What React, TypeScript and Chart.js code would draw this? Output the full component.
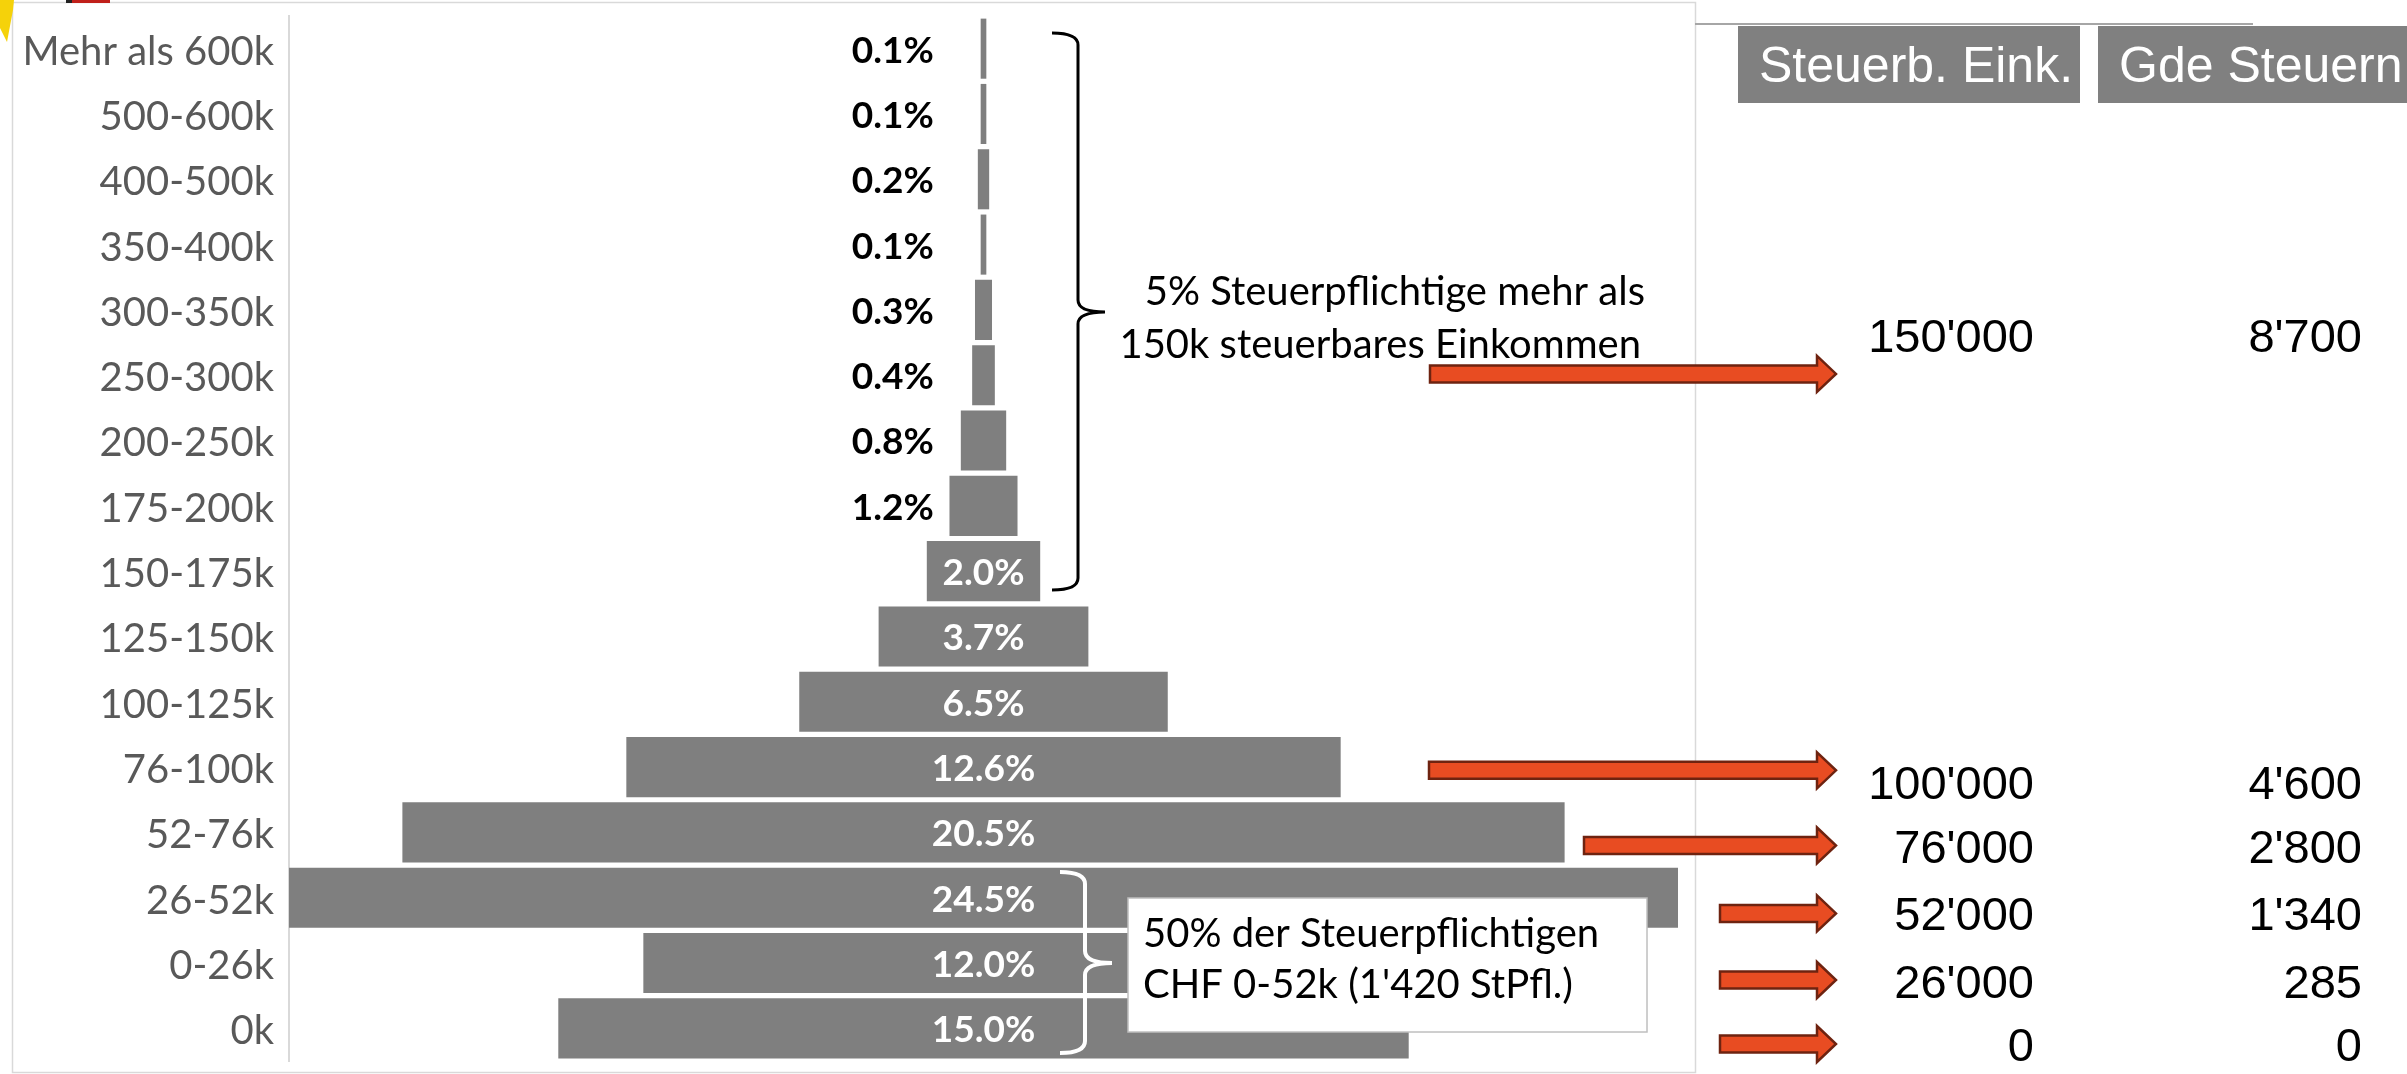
import React, { useEffect, useRef } from "react";
import { Chart, registerables } from "chart.js";

Chart.register(...registerables);

// ---------- data ----------
const categories = [
  "Mehr als 600k", "500-600k", "400-500k", "350-400k", "300-350k", "250-300k",
  "200-250k", "175-200k", "150-175k", "125-150k", "100-125k", "76-100k",
  "52-76k", "26-52k", "0-26k", "0k",
];
const shares = [0.1, 0.1, 0.2, 0.1, 0.3, 0.4, 0.8, 1.2, 2.0, 3.7, 6.5, 12.6, 20.5, 24.5, 12.0, 15.0];
const tableHeaders = ["Steuerb. Eink.", "Gde Steuern"];
const taxableIncome = [150000, 100000, 76000, 52000, 26000, 0];
const municipalTax = [8700, 4600, 2800, 1340, 285, 0];
const topNote = ["5% Steuerpflichtige mehr als", "150k steuerbares Einkommen"];
const bottomNote = ["50% der Steuerpflichtigen", "CHF 0-52k (1'420 StPfl.)"];

// ---------- layout (annotation placement, in category-index units / px) ----------
const TABLE_BASELINE_ROWS = [4.64, 11.49, 12.47, 13.5, 14.54, 15.5];
const ARROW_ROWS = [4.98, 11.05, 12.2, 13.24, 14.26, 15.24];
const ARROW_START_X = [1430, 1429, 1584, 1720, 1720, 1720];
const ARROW_TIP_X = 1836;

const fmt = (n: number) => String(n).replace(/\B(?=(\d{3})+(?!\d))/g, "'");

function drawBrace(ctx: CanvasRenderingContext2D, x0: number, xv: number, xt: number,
  yTop: number, yMid: number, yBot: number, r: number) {
  ctx.beginPath();
  ctx.moveTo(x0, yTop);
  ctx.quadraticCurveTo(xv, yTop, xv, yTop + r);
  ctx.lineTo(xv, yMid - r);
  ctx.quadraticCurveTo(xv, yMid, xt, yMid);
  ctx.moveTo(xt, yMid);
  ctx.quadraticCurveTo(xv, yMid, xv, yMid + r);
  ctx.lineTo(xv, yBot - r);
  ctx.quadraticCurveTo(xv, yBot, x0, yBot);
  ctx.stroke();
}

function drawArrow(ctx: CanvasRenderingContext2D, x0: number, x1: number, yc: number) {
  const sh = 8.5, hh = 18, hl = 19;
  ctx.beginPath();
  ctx.moveTo(x0, yc - sh);
  ctx.lineTo(x1 - hl, yc - sh);
  ctx.lineTo(x1 - hl, yc - hh);
  ctx.lineTo(x1, yc);
  ctx.lineTo(x1 - hl, yc + hh);
  ctx.lineTo(x1 - hl, yc + sh);
  ctx.lineTo(x0, yc + sh);
  ctx.closePath();
  ctx.fillStyle = "#e84c22";
  ctx.fill();
  ctx.strokeStyle = "#6e2310";
  ctx.lineWidth = 2.5;
  ctx.lineJoin = "miter";
  ctx.stroke();
}

const decor = {
  id: "decor",
  beforeDraw(chart: any) {
    const ctx: CanvasRenderingContext2D = chart.ctx;
    ctx.save();
    ctx.fillStyle = "#ffffff";
    ctx.fillRect(0, 0, chart.width, chart.height);
    // chart frame
    ctx.strokeStyle = "#d9d9d9";
    ctx.lineWidth = 1.5;
    ctx.strokeRect(12.5, 2.5, 1683, 1070);
    // corner artefacts
    ctx.fillStyle = "#f5d20a";
    ctx.beginPath();
    ctx.moveTo(0, 0); ctx.lineTo(14, 0); ctx.lineTo(13, 10); ctx.lineTo(7, 42); ctx.lineTo(0, 28);
    ctx.closePath(); ctx.fill();
    ctx.fillStyle = "#222"; ctx.fillRect(66, 0, 6, 3);
    ctx.fillStyle = "#c0201a"; ctx.fillRect(72, 0, 38, 3);
    ctx.restore();
  },
  afterDatasetsDraw(chart: any) {
    const ctx: CanvasRenderingContext2D = chart.ctx;
    const xs = chart.scales.x;
    const meta = chart.getDatasetMeta(0);
    ctx.save();
    ctx.font = "bold 37px Lato";
    ctx.textAlign = "center";
    ctx.textBaseline = "middle";
    meta.data.forEach((bar: any, i: number) => {
      const v = shares[i];
      const txt = v.toFixed(1) + "%";
      if (v >= 2) {
        ctx.fillStyle = "#ffffff";
        ctx.fillText(txt, xs.getPixelForValue(0), bar.y + 2);
      } else {
        ctx.fillStyle = "#000000";
        ctx.fillText(txt, xs.getPixelForValue(-1.6), bar.y + 2);
      }
    });
    ctx.restore();
  },
  afterDraw(chart: any) {
    const ctx: CanvasRenderingContext2D = chart.ctx;
    const ys = chart.scales.y;
    const yOf = (r: number) => ys.getPixelForValue(r);
    ctx.save();

    // black brace (top group)
    ctx.strokeStyle = "#000";
    ctx.lineWidth = 3;
    drawBrace(ctx, 1052, 1078, 1105, 33, 312, 590, 12);

    // white brace (bottom group)
    ctx.strokeStyle = "#fff";
    ctx.lineWidth = 4;
    drawBrace(ctx, 1060, 1085, 1112, 872, 963, 1053, 12);

    // top note
    ctx.fillStyle = "#000";
    ctx.font = "40px Lato";
    ctx.textAlign = "right";
    ctx.textBaseline = "alphabetic";
    ctx.fillText(topNote[0], 1645, 305);
    ctx.fillText(topNote[1], 1641, 358);

    // bottom note box
    ctx.fillStyle = "#fff";
    ctx.fillRect(1128, 898, 519, 134);
    ctx.strokeStyle = "#bfbfbf";
    ctx.lineWidth = 1.5;
    ctx.strokeRect(1128, 898, 519, 134);
    ctx.fillStyle = "#000";
    ctx.textAlign = "left";
    ctx.fillText(bottomNote[0], 1143, 947);
    ctx.fillText(bottomNote[1], 1143, 998);

    // arrows
    ARROW_ROWS.forEach((r, i) => drawArrow(ctx, ARROW_START_X[i], ARROW_TIP_X, yOf(r)));

    // table header
    ctx.strokeStyle = "#a6a6a6";
    ctx.lineWidth = 2;
    ctx.beginPath(); ctx.moveTo(1695, 24); ctx.lineTo(2253, 24); ctx.stroke();
    ctx.fillStyle = "#808080";
    ctx.fillRect(1738, 26, 342, 77);
    ctx.fillRect(2098, 26, 320, 77);
    ctx.fillStyle = "#fff";
    ctx.font = "50px 'Liberation Sans', Arial, sans-serif";
    ctx.textAlign = "left";
    ctx.fillText(tableHeaders[0], 1759, 82);
    ctx.fillText(tableHeaders[1], 2119, 82);

    // table values
    ctx.fillStyle = "#000";
    ctx.font = "47px 'Liberation Sans', Arial, sans-serif";
    ctx.textAlign = "right";
    TABLE_BASELINE_ROWS.forEach((r, i) => {
      const y = yOf(r);
      ctx.fillText(fmt(taxableIncome[i]), 2034, y);
      ctx.fillText(fmt(municipalTax[i]), 2362, y);
    });
    ctx.restore();
  },
};

export default function App() {
  const ref = useRef<HTMLCanvasElement>(null);
  useEffect(() => {
    let chart: Chart | null = null;
    let cancelled = false;
    const make = () => {
      if (cancelled || !ref.current) return;
      chart = new Chart(ref.current, {
        type: "bar",
        data: {
          labels: categories,
          datasets: [{
            data: shares.map((v) => [-v / 2, v / 2]) as any,
            backgroundColor: "#7f7f7f",
            borderWidth: 0,
            barPercentage: 0.92,
            categoryPercentage: 1,
          }],
        },
        options: {
          indexAxis: "y",
          responsive: false,
          animation: false,
          devicePixelRatio: 1,
          layout: { padding: { left: 0, right: 729, top: 16, bottom: 13 } },
          plugins: {
            legend: { display: false },
            tooltip: { enabled: false },
            title: { display: false },
          },
          scales: {
            x: { display: false, min: -12.25, max: 12.25 },
            y: {
              grid: { display: false, drawTicks: false },
              border: { display: true, color: "#d9d9d9", width: 2 },
              ticks: { font: { family: "Lato", size: 40 }, color: "#595959", padding: 15, labelOffset: 3 },
              afterFit: (s: any) => {
                s.width = 289;
                s.paddingTop = 0;
                s.paddingBottom = 0;
              },
            },
          },
        },
        plugins: [decor],
      } as any);
    };
    const fonts = ["40px Lato", "bold 37px Lato", "47px 'Liberation Sans'"];
    Promise.all(fonts.map((f) => document.fonts.load(f))).then(make, make);
    return () => {
      cancelled = true;
      if (chart) chart.destroy();
    };
  }, []);
  return (
    <div style={{ position: "fixed", left: 0, top: 0, width: 2407, height: 1074, background: "#fff" }}>
      <canvas ref={ref} width={2407} height={1074} style={{ width: 2407, height: 1074, display: "block" }} />
    </div>
  );
}
